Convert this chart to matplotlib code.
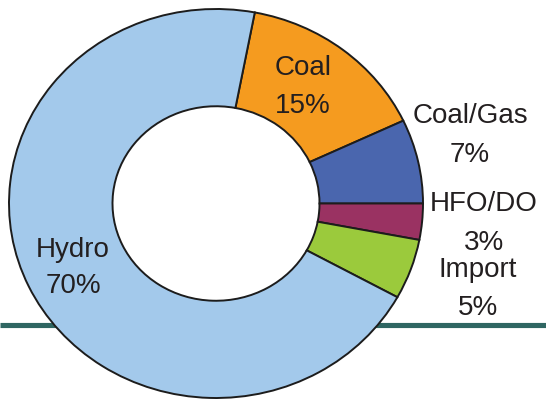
import matplotlib.pyplot as plt

plt.rcParams['font.family'] = ['Liberation Sans', 'DejaVu Sans']

# Generation mix by source (percent)
sources = ['Coal', 'Coal/Gas', 'HFO/DO', 'Import', 'Hydro']
shares = [15, 7, 3, 5, 70]
colors = ['#f59b1f', '#4a66ae', '#9a3262', '#9bca3c', '#a3c9eb']

# label placement in pixels: (x centre, baseline of name, baseline of percent)
label_pos = {
    'Coal': (303, 75, 113),
    'Coal/Gas': (470, 123, 162),
    'HFO/DO': (484, 211, 250),
    'Import': (478, 277, 315),
    'Hydro': (73, 257, 293),
}

W, H = 546, 399
cx, cy = 216, 203.5      # donut centre (px)
rx, ry = 207, 194.5      # outer radii (px)

fig = plt.figure(figsize=(W / 100, H / 100), dpi=100)
ax = fig.add_axes([0, 0, 1, 1])

ax.pie(shares, colors=colors, startangle=79.2, counterclock=False,
       radius=1.0,
       wedgeprops=dict(width=0.5, edgecolor='#1c1c1c', linewidth=1.4))

ax.set_aspect('auto')
ax.set_xlim(-cx / rx, (W - cx) / rx)
ax.set_ylim((cy - H) / ry, cy / ry)
ax.axis('off')

# teal rule running behind the donut
rule_y = 1 - 324.5 / H
ax.plot([0, 1], [rule_y, rule_y], color='#2f6662', lw=3.7,
        transform=ax.transAxes, zorder=0, solid_capstyle='butt')

for name, pct in zip(sources, shares):
    x, y1, y2 = label_pos[name]
    for txt, yb in ((name, y1), (f'{pct}%', y2)):
        fig.text(x / W, 1 - yb / H, txt, ha='center', va='baseline',
                 fontsize=20, color='#231f20')

fig.savefig('out.png', dpi=100)
